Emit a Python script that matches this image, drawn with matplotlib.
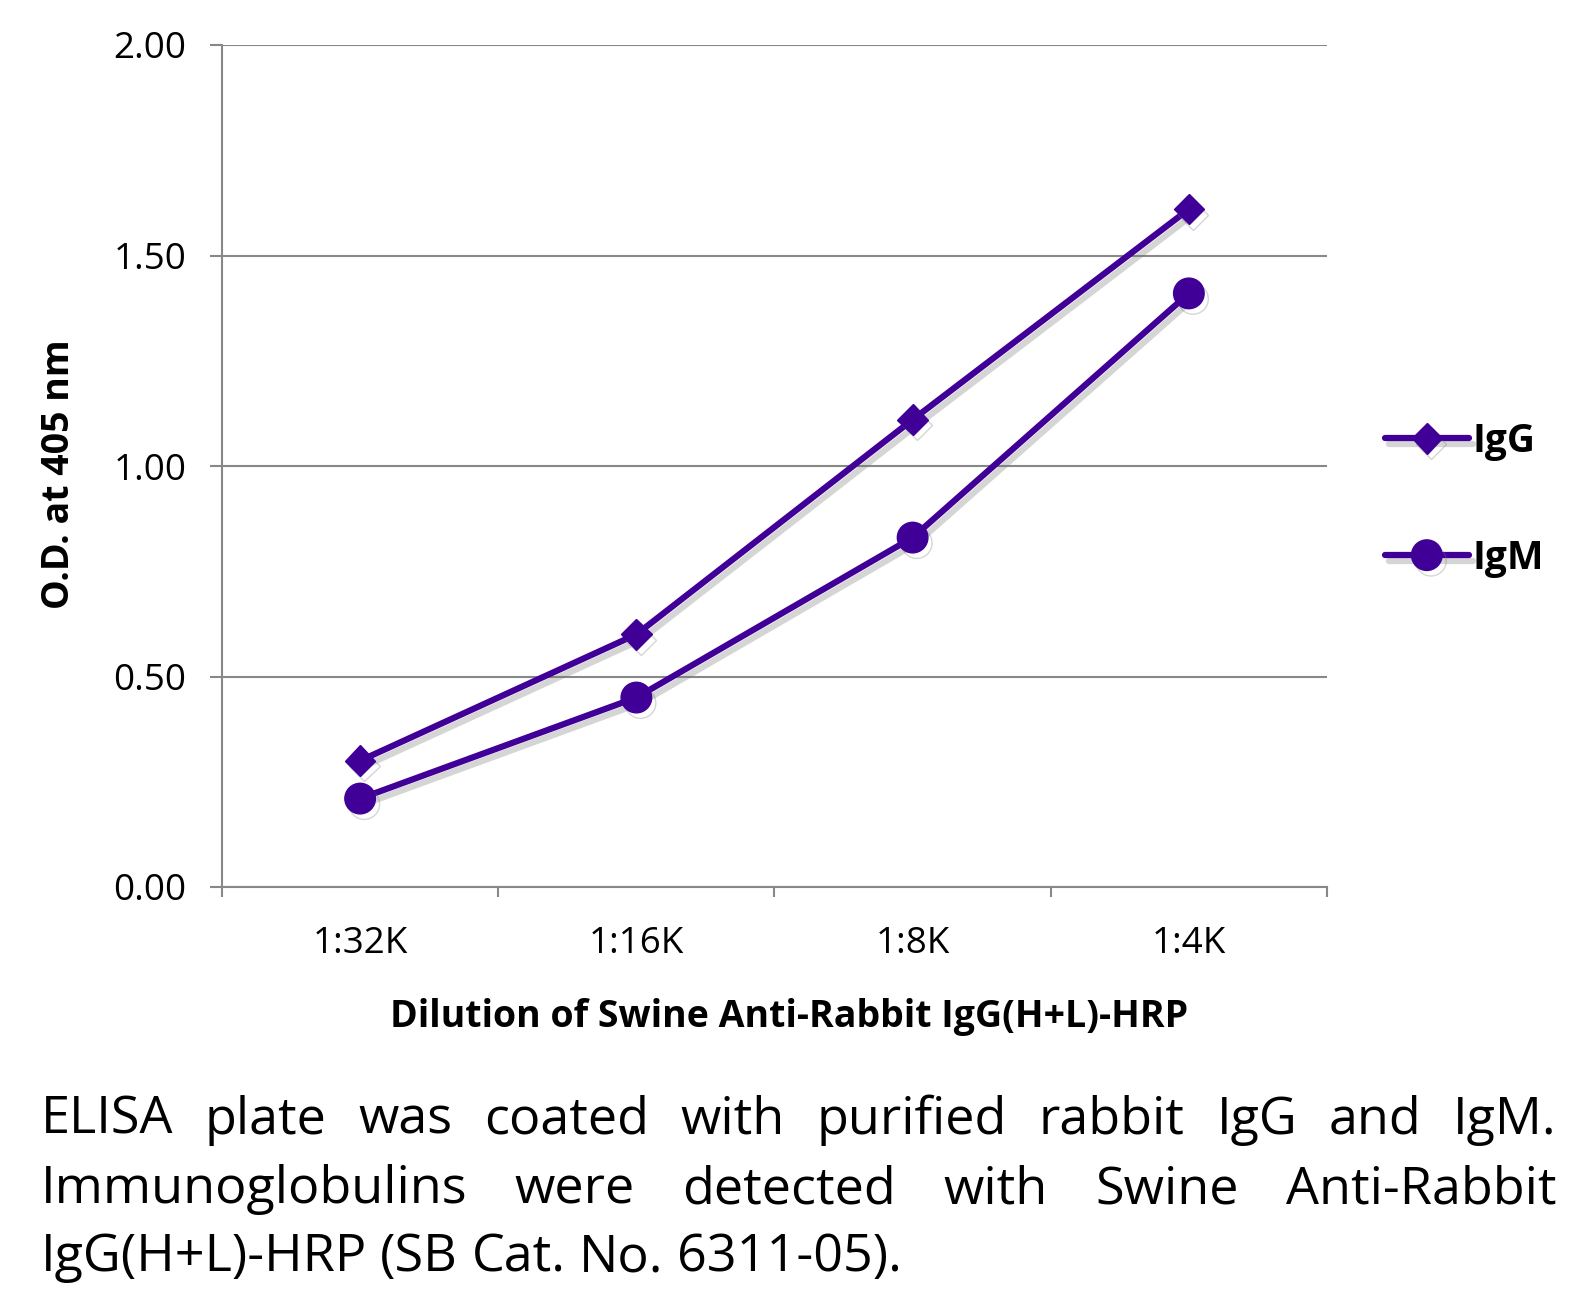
import matplotlib
matplotlib.use("Agg")
import matplotlib.pyplot as plt
import matplotlib.patheffects as pe
import numpy as np

categories = ["1:32K", "1:16K", "1:8K", "1:4K"]
igg = [0.30, 0.60, 1.11, 1.61]
igm = [0.21, 0.45, 0.83, 1.41]
series_names = ["IgG", "IgM"]
y_ticks = [0.0, 0.5, 1.0, 1.5, 2.0]
y_label = "O.D. at 405 nm"
x_label = "Dilution of Swine Anti-Rabbit IgG(H+L)-HRP"
caption_lines = [
    "ELISA plate was coated with purified rabbit IgG and IgM.",
    "Immunoglobulins were detected with Swine Anti-Rabbit",
    "IgG(H+L)-HRP (SB Cat. No. 6311-05).",
]

W, H = 1590, 1306
DPI = 100
plt.rcParams['font.family'] = ['Open Sans', 'DejaVu Sans']

fig = plt.figure(figsize=(W / DPI, H / DPI), dpi=DPI)
ax = fig.add_axes([222 / W, 1 - 887 / H, (1327 - 222) / W, (887 - 45) / H])

color = '#400098'
grid_col = '#888888'
shadow = [pe.SimpleLineShadow(offset=(3, -4), shadow_color='#777777', alpha=0.3), pe.Normal()]

x = np.arange(len(categories)) + 0.5
ax.plot(x, igg, color=color, lw=4.5, marker='D', markersize=15.5, label=series_names[0],
        solid_capstyle='round', path_effects=shadow, zorder=3)
ax.plot(x, igm, color=color, lw=4.5, marker='o', markersize=22, label=series_names[1],
        solid_capstyle='round', path_effects=shadow, zorder=3)

ax.set_xlim(0, len(categories))
ax.set_ylim(0, 2.0)
ax.set_yticks(y_ticks)
ax.set_yticklabels([f"{v:.2f}" for v in y_ticks])
ax.set_xticks(x)
ax.set_xticklabels(categories)
ax.set_xticks(np.arange(len(categories) + 1), minor=True)
ax.tick_params(axis='x', which='major', length=0, pad=28, labelsize=26.5)
ax.tick_params(axis='x', which='minor', length=7, width=1.5, color=grid_col, direction='out')
ax.tick_params(axis='y', which='major', length=8.6, width=1.5, color=grid_col, pad=17, labelsize=26.5)

ax.yaxis.grid(True, color=grid_col, lw=1.5)
ax.set_axisbelow(True)
for s in ['top', 'right']:
    ax.spines[s].set_visible(False)
for s in ['left', 'bottom']:
    ax.spines[s].set_color(grid_col)
    ax.spines[s].set_linewidth(1.5)

fig.text(59 / W, 1 - 474 / H, y_label, rotation=90, ha='center', va='center',
         fontsize=27, fontweight='bold')
fig.text(789 / W, 1 - 1017 / H, x_label, ha='center', va='center',
         fontsize=27, fontweight='bold')

leg = fig.legend(loc='upper left', bbox_to_anchor=(1385 / W, 1 - 422 / H), frameon=False,
                 prop={'size': 28, 'weight': 'bold'}, handlelength=2.15, handletextpad=0.1,
                 labelspacing=2.0, borderpad=0, borderaxespad=0)

# Justified caption
fig.canvas.draw()
renderer = fig.canvas.get_renderer()
left, right = 40.5, 1557
baselines = [1134, 1203, 1271]
cap_font = ['Open Sans', 'DejaVu Sans']
probe = fig.text(0, 0, caption_lines[2], fontsize=30, family=cap_font)
pw = probe.get_window_extent(renderer).width
probe.remove()
cap_size = 30 * 860 / pw
for i, line in enumerate(caption_lines):
    words = line.split(' ')
    texts = [fig.text(0, 1 - baselines[i] / H, w, fontsize=cap_size, family=cap_font,
                      va='baseline', ha='left') for w in words]
    widths = [t.get_window_extent(renderer).width for t in texts]
    if i < len(caption_lines) - 1:
        gap = (right - left - sum(widths)) / (len(words) - 1)
    else:
        sp = fig.text(0, 0, 'a a', fontsize=cap_size, family=cap_font)
        sa = fig.text(0, 0, 'aa', fontsize=cap_size, family=cap_font)
        gap = sp.get_window_extent(renderer).width - sa.get_window_extent(renderer).width
        sp.remove(); sa.remove()
    xpos = left
    for t, w in zip(texts, widths):
        t.set_x(xpos / W)
        xpos += w + gap

fig.savefig('out.png', dpi=DPI)
